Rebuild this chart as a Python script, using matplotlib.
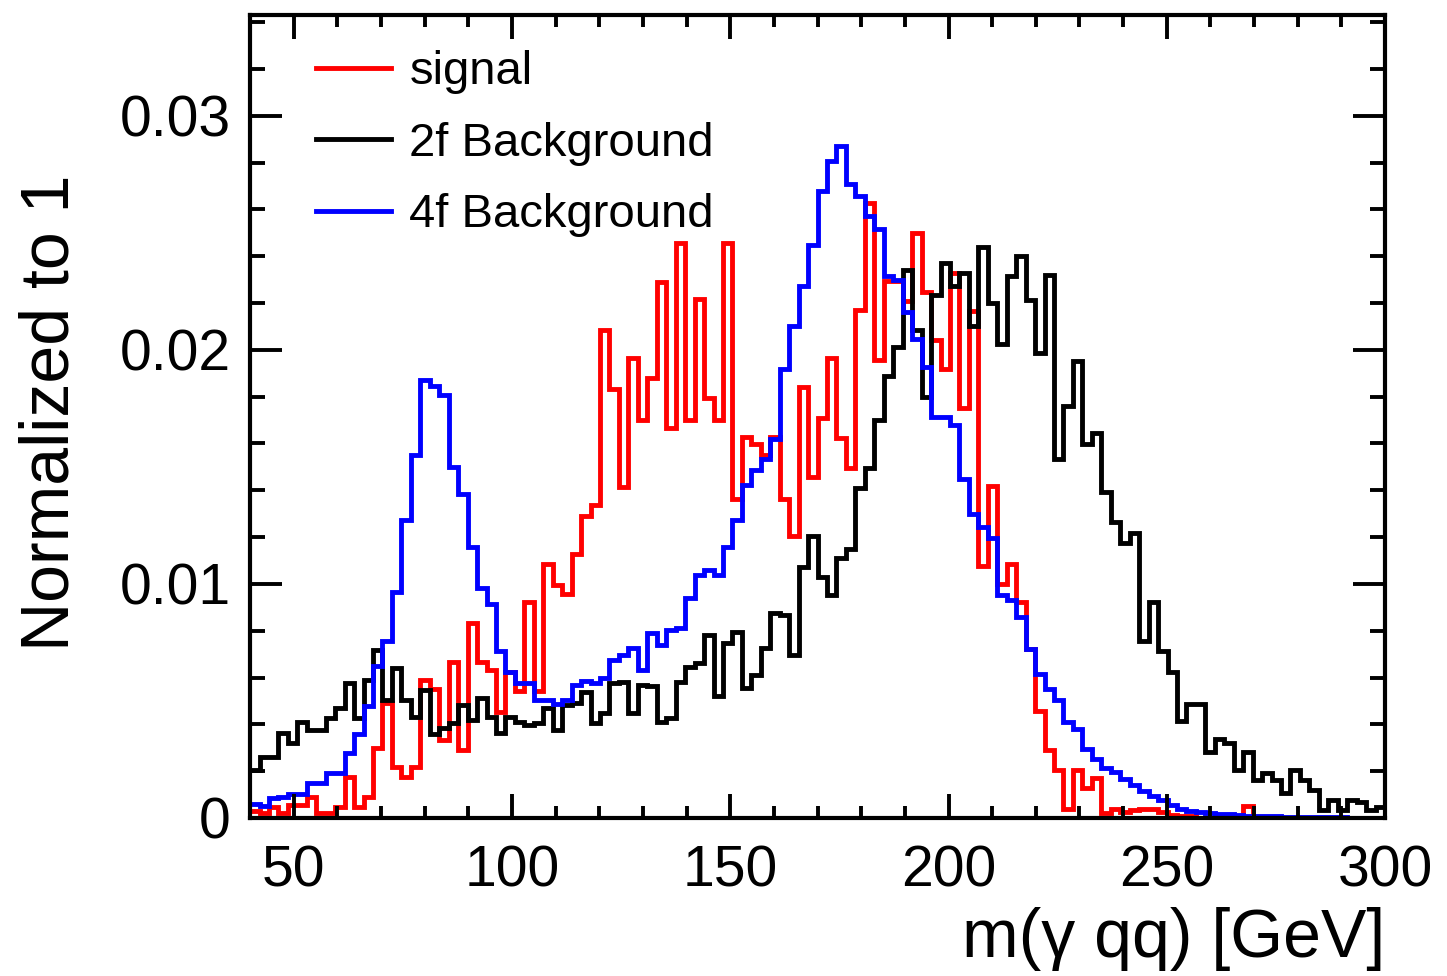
import matplotlib
matplotlib.use('Agg')

import numpy as np
import matplotlib.pyplot as plt
from matplotlib.ticker import MultipleLocator, FuncFormatter

plt.rcParams['font.family'] = ['Liberation Sans', 'DejaVu Sans']

# 120 bins of m(gamma qq) between 40 and 300 GeV
edges = np.linspace(40, 300, 121)

signal = [
    0.0003, 0.00023, 0.00048, 0.00023, 0.00056, 0.00056, 0.00091, 0.00023, 0.00023, 0.00048,
    0.00177, 0.00048, 0.00091, 0.00298, 0.0049, 0.00219, 0.00177, 0.00219, 0.0059, 0.00551,
    0.00332, 0.00665, 0.00292, 0.00835, 0.00665, 0.00632, 0.00454, 0.00624, 0.00543, 0.00924,
    0.00543, 0.01086, 0.00997, 0.00957, 0.01127, 0.01289, 0.01338, 0.02083, 0.01832, 0.01415,
    0.01963, 0.01701, 0.01879, 0.0229, 0.01664, 0.02458, 0.01701, 0.02215, 0.01794, 0.01701,
    0.02458, 0.01364, 0.01626, 0.01598, 0.01551, 0.01626, 0.01364, 0.01206, 0.01841, 0.01458,
    0.0171, 0.01964, 0.01623, 0.01494, 0.0217, 0.02627, 0.01955, 0.02292, 0.02292, 0.02207,
    0.025, 0.02246, 0.0204, 0.0192, 0.0233, 0.0175, 0.02165, 0.01075, 0.0142, 0.01,
    0.01085, 0.00924, 0.00721, 0.00458, 0.00291, 0.00205, 0.0004, 0.00205, 0.00127, 0.0017,
    0.0002, 0.0004, 0.00027, 0.00034, 0.0004, 0.0004, 0.00027, 0.00013, 0.0001, 0.0001,
    0.0, 0.0, 0.0, 0.0, 0.0, 0.0005, 0.0, 0.0, 0.0, 0.0,
    0.0, 0.0, 0.0, 0.0, 0.0, 0.0, 0.0, 0.0, 0.0, 0.0,
]

bkg_2f = [
    0.00205, 0.00262, 0.00262, 0.00362, 0.00319, 0.00412, 0.00376, 0.00376, 0.00426, 0.00469,
    0.00576, 0.00426, 0.0059, 0.00718, 0.00504, 0.0064, 0.00504, 0.00433, 0.00547, 0.0036,
    0.00385, 0.00405, 0.00483, 0.00419, 0.00511, 0.00433, 0.00362, 0.00433, 0.00412, 0.00397,
    0.00405, 0.00469, 0.00376, 0.00483, 0.0049, 0.0054, 0.00405, 0.00447, 0.00575, 0.00583,
    0.00447, 0.00568, 0.00564, 0.00412, 0.00426, 0.00583, 0.00647, 0.00661, 0.00782, 0.00519,
    0.00746, 0.00796, 0.00554, 0.00611, 0.00725, 0.00875, 0.00868, 0.00697, 0.01074, 0.01206,
    0.01028, 0.00953, 0.01112, 0.0115, 0.0141, 0.01494, 0.01701, 0.01887, 0.02012, 0.0234,
    0.02085, 0.018, 0.02235, 0.02372, 0.02271, 0.02328, 0.021, 0.0244, 0.022, 0.02025,
    0.02316, 0.024, 0.02213, 0.01986, 0.02318, 0.01532, 0.01759, 0.01954, 0.01597, 0.01646,
    0.01394, 0.01265, 0.01175, 0.01216, 0.00754, 0.00924, 0.00713, 0.00624, 0.00413, 0.00486,
    0.00486, 0.00283, 0.00336, 0.00319, 0.00205, 0.00283, 0.00162, 0.00191, 0.00162, 0.00105,
    0.00205, 0.00162, 0.0012, 0.00034, 0.00077, 0.00034, 0.00077, 0.0007, 0.00034, 0.00048,
]

bkg_4f = [
    0.0006, 0.0005, 0.00085, 0.0009, 0.00104, 0.00104, 0.00148, 0.00148, 0.00192, 0.00192,
    0.00276, 0.0036, 0.00478, 0.0065, 0.00758, 0.00967, 0.01274, 0.01551, 0.01872, 0.01845,
    0.01808, 0.015, 0.01386, 0.01159, 0.00981, 0.00916, 0.00713, 0.00624, 0.00576, 0.00576,
    0.00503, 0.00503, 0.00486, 0.00503, 0.00567, 0.00584, 0.00576, 0.006, 0.00673, 0.00695,
    0.00725, 0.00632, 0.00789, 0.00739, 0.00803, 0.0081, 0.00939, 0.01038, 0.0106, 0.01038,
    0.01159, 0.01271, 0.01421, 0.01486, 0.01533, 0.01617, 0.01916, 0.02103, 0.02271, 0.02449,
    0.0268, 0.02805, 0.02869, 0.02708, 0.02658, 0.0257, 0.02517, 0.02314, 0.023, 0.02162,
    0.02048, 0.01927, 0.01713, 0.01713, 0.0168, 0.0145, 0.01299, 0.01243, 0.01196, 0.00953,
    0.0093, 0.00859, 0.00721, 0.00616, 0.0055, 0.00504, 0.00412, 0.00378, 0.00295, 0.00252,
    0.00214, 0.00195, 0.00165, 0.0014, 0.00117, 0.00094, 0.00075, 0.00056, 0.0004, 0.00028,
    0.00025, 0.0002, 0.00017, 0.00015, 0.00012, 0.0001, 0.0001, 0.00008, 0.00007, 0.00006,
    0.00005, 0.00004, 0.00004, 0.00003, 0.00003, 0.00003, 0.00002, 0.00002, 0.00002, 0.00002,
]

fig = plt.figure(figsize=(14.47, 9.76), dpi=100)
ax = fig.add_axes([0.1728, 0.1619, 0.9572 - 0.1728, 0.9846 - 0.1619])

lw = 3.5
ax.stairs(signal, edges, baseline=None, color='#ff0000', lw=lw, label='signal')
ax.stairs(bkg_2f, edges, baseline=None, color='black', lw=lw, label='2f Background')
ax.stairs(bkg_4f, edges, baseline=None, color='#0000ff', lw=lw, label='4f Background')

ax.set_xlim(40, 300)
ax.set_ylim(0, 0.0343)

ax.xaxis.set_major_locator(MultipleLocator(50))
ax.xaxis.set_minor_locator(MultipleLocator(10))
ax.yaxis.set_major_locator(MultipleLocator(0.01))
ax.yaxis.set_minor_locator(MultipleLocator(0.002))
ax.yaxis.set_major_formatter(FuncFormatter(lambda v, p: '0' if abs(v) < 1e-9 else '%.2f' % v))

for s in ax.spines.values():
    s.set_linewidth(3)
ax.tick_params(which='both', direction='in', top=True, right=True, width=2.8, labelsize=41)
ax.tick_params(axis='x', which='major', length=17, pad=19)
ax.tick_params(axis='x', which='minor', length=8.5)
ax.tick_params(axis='y', which='major', length=23, pad=14)
ax.tick_params(axis='y', which='minor', length=11)

ax.set_xlabel('m(γ qq) [GeV]', fontsize=49, loc='right', labelpad=6)
fig.text(0.0346, 0.8207, 'Normalized to 1', fontsize=49, rotation=90, ha='center', va='top')

ax.legend(loc='upper left', bbox_to_anchor=(0.058, 0.956), frameon=False, fontsize=34,
          handlelength=1.6, handletextpad=0.38, labelspacing=0.58, borderpad=0, borderaxespad=0,
          handles=[plt.Line2D([], [], color=c, lw=lw) for c in ['#ff0000', 'black', '#0000ff']],
          labels=['signal', '2f Background', '4f Background'])

fig.savefig('out.png', dpi=100)
